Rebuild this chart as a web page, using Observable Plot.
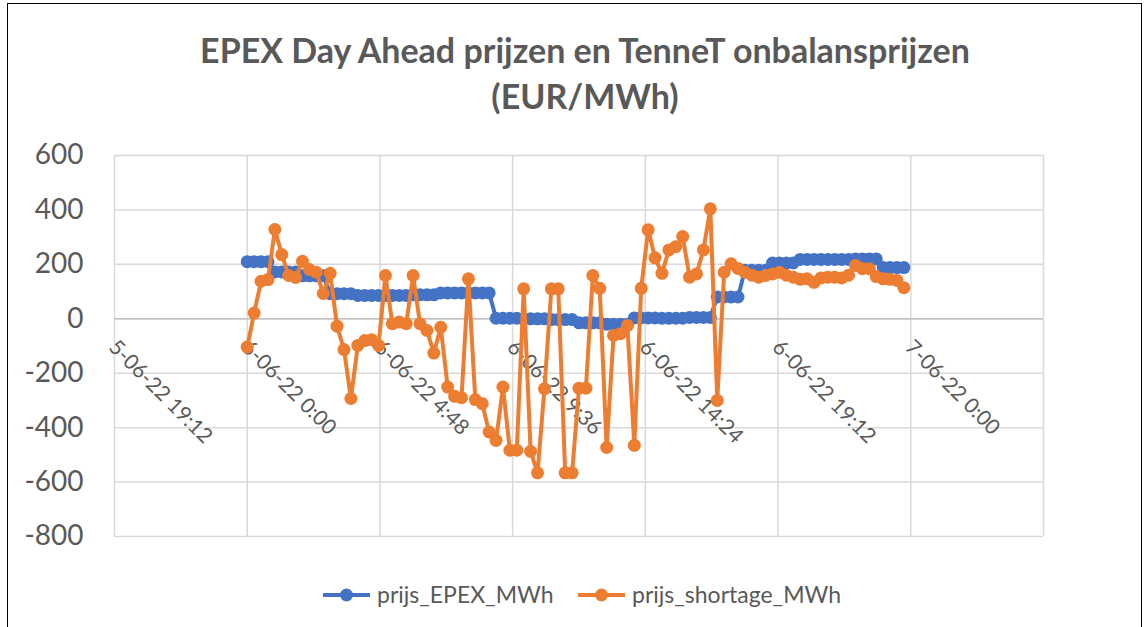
<!DOCTYPE html>
<html><head><meta charset="utf-8">
<script src="https://cdn.jsdelivr.net/npm/d3@7"></script>
<script src="https://cdn.jsdelivr.net/npm/@observablehq/plot@0.6"></script>
<style>
body{margin:0;background:#fff;}
#chart{position:relative;width:1147px;height:627px;overflow:hidden;font-family:Lato,sans-serif;background:#fff;}
#frame{position:absolute;left:7px;top:3px;width:1135px;height:660px;border:1.5px solid #000;box-sizing:border-box;}
#title{position:absolute;left:0;top:27px;width:1170px;text-align:center;font-weight:bold;font-size:34px;color:#595959;line-height:46px;}
#plot{position:absolute;left:0;top:0;}
#legend{position:absolute;left:0;top:575px;}
</style></head>
<body>
<div id="chart">
  <div id="frame"></div>
  <div id="plot"></div>
  <div id="title">EPEX Day Ahead prijzen en TenneT onbalansprijzen<br>(EUR/MWh)</div>
  <div id="legend"></div>
</div>
<script>
// Quarter-hour values for 6 June 2022 (00:00 .. 23:45)
const prijs_EPEX_MWh = [
  210,210,210,210, 172,172,172,172, 158,158,158,158, 92,92,92,92,
  86,86,86,86, 86,86,86,86, 88,88,88,88, 95,95,95,95,
  95,95,95,95, 2,2,2,2, 0,0,0,0, -3,-3,-3,-3,
  -15,-15,-15,-15, -20,-20,-20,-20, 3,3,3,3, 2,2,2,2,
  5,5,5,5, 80,80,80,80, 178,178,178,178, 205,205,205,205,
  218,218,218,218, 218,218,218,218, 220,220,220,220, 188,188,188,188
];
const prijs_shortage_MWh = [
  -104,21,138,144, 328,236,159,152, 211,181,171,93, 167,-27,-113,-293,
  -98,-80,-77,-98, 159,-18,-12,-18, 159,-18,-43,-126, -31,-251,-285,-290,
  147,-297,-312,-416, -447,-251,-483,-483, 110,-487,-566,-257, 110,110,-566,-566,
  -255,-255,159,112, -473,-61,-55,-25, -465,112,327,224, 167,253,265,302,
  153,165,253,404, -300,171,202,185, 171,160,153,159, 165,171,160,153,
  145,147,134,150, 153,153,150,160, 196,184,184,155, 147,145,141,114
];
const tickLabels = ["5-06-22 19:12","6-06-22 0:00","6-06-22 4:48","6-06-22 9:36","6-06-22 14:24","6-06-22 19:12","7-06-22 0:00"];
const tickTimes = ["2022-06-05T19:12Z","2022-06-06T00:00Z","2022-06-06T04:48Z","2022-06-06T09:36Z","2022-06-06T14:24Z","2022-06-06T19:12Z","2022-06-07T00:00Z","2022-06-07T04:48Z"];
const yTicks = [-800,-600,-400,-200,0,200,400,600];
const seriesNames = ["prijs_EPEX_MWh","prijs_shortage_MWh"];
const seriesColors = ["#4472C4","#ED7D31"];

const start = Date.UTC(2022,5,6,0,0);
const data = prijs_EPEX_MWh.map((v,i)=>({t:new Date(start + i*15*60000), epex:v, shortage:prijs_shortage_MWh[i]}));
const gridDates = tickTimes.map(s=>new Date(s));
const labelDates = gridDates.slice(0, tickLabels.length);

const chart = Plot.plot({
  width:1147, height:627,
  marginTop:155, marginBottom:91, marginLeft:114, marginRight:104,
  x:{type:"utc", domain:[gridDates[0], gridDates[gridDates.length-1]], axis:null},
  y:{domain:[-800,600], axis:null},
  style:{fontFamily:"Lato, sans-serif", background:"transparent", overflow:"visible"},
  marks:[
    Plot.ruleY(yTicks, {y:d=>d, stroke:"#d9d9d9", strokeWidth:1.5}),
    Plot.ruleX(gridDates, {x:d=>d, stroke:"#d9d9d9", strokeWidth:1.5}),
    Plot.ruleY([0], {y:d=>d, stroke:"#bfbfbf", strokeWidth:1.5}),
    Plot.text(yTicks, {x:()=>gridDates[0], y:d=>d, text:d=>String(d), textAnchor:"end", dx:-31, fontSize:28, fill:"#595959"}),
    Plot.text(labelDates, {x:d=>d, y:()=>0, text:(d,i)=>tickLabels[i], rotate:45, textAnchor:"start", lineAnchor:"middle", dx:-2, dy:25, fontSize:21, fill:"#595959"}),
    Plot.line(data, {x:"t", y:"epex", stroke:seriesColors[0], strokeWidth:4}),
    Plot.dot(data, {x:"t", y:"epex", r:6.5, fill:seriesColors[0]}),
    Plot.line(data, {x:"t", y:"shortage", stroke:seriesColors[1], strokeWidth:4}),
    Plot.dot(data, {x:"t", y:"shortage", r:6.5, fill:seriesColors[1]})
  ]
});
document.getElementById("plot").appendChild(chart);

// Legend
const lg = d3.select("#legend").append("svg").attr("width",1147).attr("height",40);
const items = [{x:323, name:seriesNames[0], c:seriesColors[0]},{x:578, name:seriesNames[1], c:seriesColors[1]}];
items.forEach(it=>{
  const g = lg.append("g");
  g.append("line").attr("x1",it.x).attr("x2",it.x+47).attr("y1",20).attr("y2",20).attr("stroke",it.c).attr("stroke-width",4);
  g.append("circle").attr("cx",it.x+23.5).attr("cy",20).attr("r",6.5).attr("fill",it.c);
  g.append("text").attr("x",it.x+54).attr("y",20).attr("dy","0.35em").attr("font-family","Lato, sans-serif").attr("font-size",23).attr("fill","#595959").text(it.name);
});
</script>
</body></html>
